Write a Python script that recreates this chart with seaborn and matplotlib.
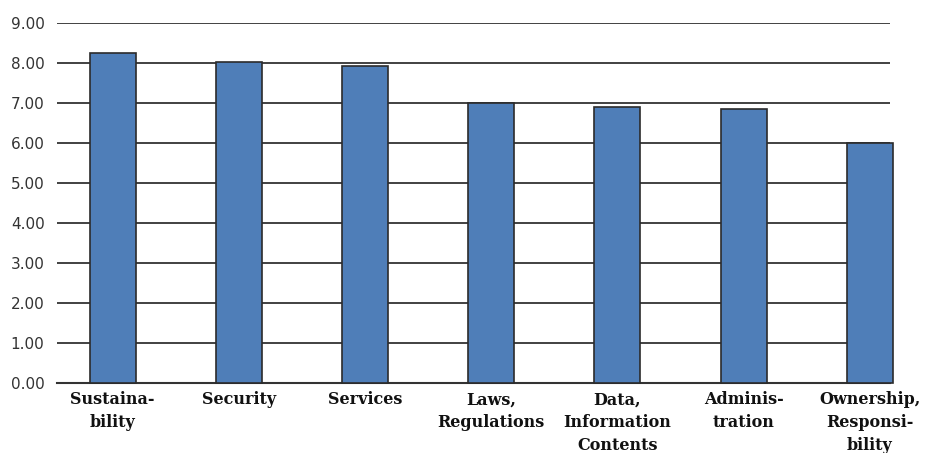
import pandas as pd
import matplotlib
matplotlib.use("Agg")
import matplotlib.pyplot as plt
import seaborn as sns

# Data
categories = ["Sustaina-\nbility", "Security", "Services", "Laws,\nRegulations",
              "Data,\nInformation\nContents", "Adminis-\ntration",
              "Ownership,\nResponsi-\nbility"]
scores = [8.25, 8.03, 7.92, 7.00, 6.90, 6.86, 6.00]
y_ticks = [0, 1, 2, 3, 4, 5, 6, 7, 8, 9]

df = pd.DataFrame({"category": categories, "score": scores})

sns.set_style("white")

fig = plt.figure(figsize=(9.26, 4.53), dpi=100)
ax = fig.add_axes([0.0616, 0.1545, 0.8996, 0.7947])

sns.barplot(data=df, x="category", y="score", color="#4F7EB8", saturation=1,
            width=0.365, edgecolor="#2b2b2b", linewidth=1.2, ax=ax)
for p in ax.patches:
    p.set_clip_on(False)
    p.set_zorder(3)

ax.set_ylim(0, 9)
ax.set_xlim(-0.44, 6.16)
ax.set_yticks(y_ticks)
ax.set_yticklabels([f"{v:.2f}" for v in y_ticks], fontfamily="DejaVu Sans",
                   fontsize=11, color="#333333")
ax.set_xticks(range(len(categories)))
ax.set_xticklabels(categories, fontfamily="DejaVu Serif", fontweight="bold",
                   fontsize=11.5, linespacing=1.45, color="#111111")
ax.tick_params(axis="both", length=0)
ax.tick_params(axis="y", pad=9)
ax.tick_params(axis="x", pad=6)

ax.yaxis.grid(True, color="#333333", linewidth=1.3)
ax.set_axisbelow(True)
for s in ["top", "right", "left"]:
    ax.spines[s].set_visible(False)
ax.spines["bottom"].set_color("#333333")
ax.spines["bottom"].set_linewidth(1.5)

ax.set_xlabel("")
ax.set_ylabel("")

fig.savefig("out.png", dpi=100)
